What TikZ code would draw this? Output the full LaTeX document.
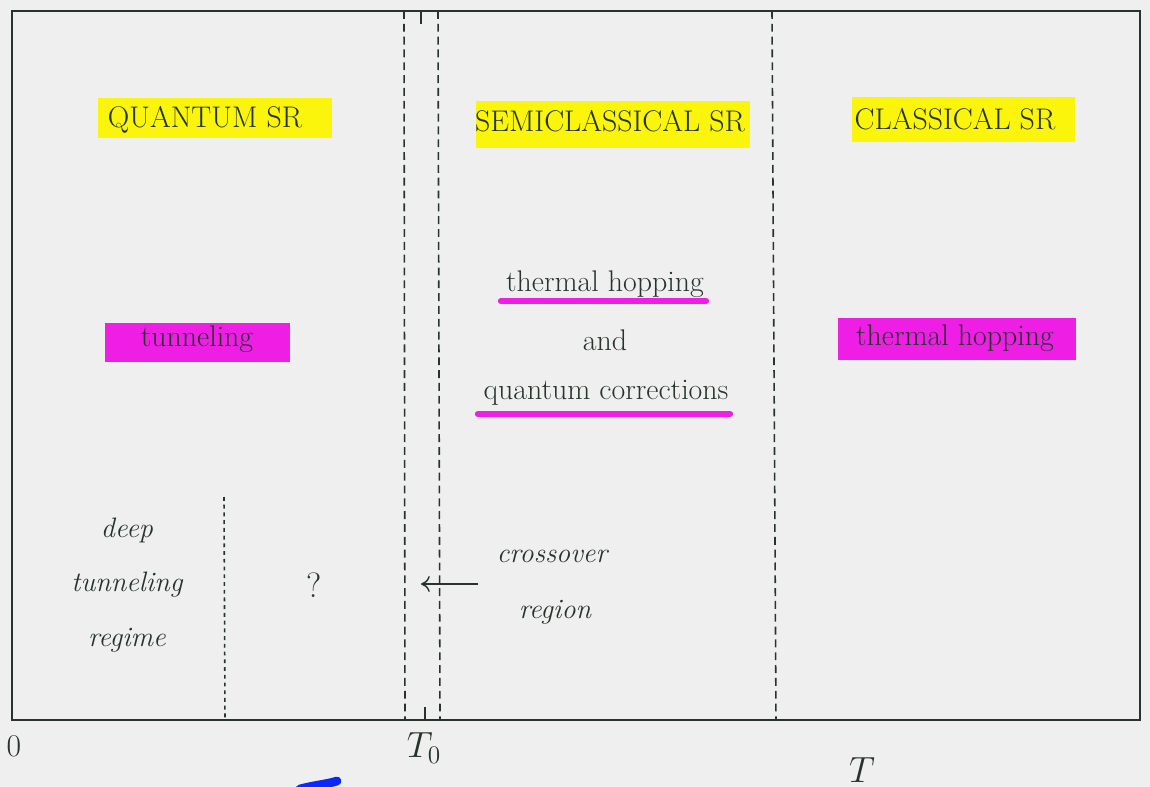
\documentclass[tikz,border=0pt]{standalone}
\usetikzlibrary{arrows.meta}
\definecolor{ink}{RGB}{38,52,44}
\definecolor{paper}{RGB}{239,239,239}
\definecolor{hly}{RGB}{250,245,10}
\definecolor{hlm}{RGB}{238,30,228}
\definecolor{pen}{RGB}{10,40,250}
\begin{document}
\begin{tikzpicture}[x=0.02cm,y=-0.02cm,
  every node/.style={text=ink, inner sep=0pt},
  lbl/.style={font=\fontsize{17}{20}\selectfont},
  ilbl/.style={font=\fontsize{16}{19}\selectfont\itshape},
  mlbl/.style={font=\fontsize{22}{26}\selectfont},
  frame/.style={draw=ink, line width=1.4pt},
  dashline/.style={draw=ink, line width=0.9pt, dash pattern=on 4.5pt off 2.8pt},
  dotline/.style={draw=ink, line width=0.9pt, dash pattern=on 2.2pt off 2.2pt},
  yhl/.style={fill=hly},
  mhl/.style={fill=hlm},
  uline/.style={draw=hlm, line width=3.6pt, line cap=round}]
\fill[paper] (0,0) rectangle (1150,787);
\useasboundingbox (0,0) rectangle (1150,787);
% highlights
\fill[yhl] (98,98) rectangle (332,138);
\fill[yhl] (476,101) rectangle (750,148);
\fill[yhl] (852,97) rectangle (1075,142);
\fill[mhl] (105,323) rectangle (290,362);
\fill[mhl] (838,318) rectangle (1076,360);
\draw[uline] (501,301) -- (706,301);
\draw[uline] (478,414) -- (730,414);
% frame
\draw[frame] (12,11) rectangle (1140,720);
% dashed region boundaries
\draw[dashline] (404,11) -- (405,720);
\draw[dashline] (438,11) -- (440,720);
\draw[dashline] (772,11) -- (776,720);
\draw[dotline] (224,497) -- (225,720);
% ticks
\draw[ink, line width=1.2pt] (421,11) -- (421,24);
\draw[ink, line width=1.2pt] (425,707) -- (425,720);
% labels
\node[lbl] (qsr) at (205,120) {QUANTUM SR};
\node[lbl] (ssr) at (610,121) {SEMICLASSICAL SR};
\node[lbl] (csr) at (955,119) {CLASSICAL SR};
\node[lbl] (tun) at (197,339) {tunneling};
\node[lbl] (th2) at (955,338) {thermal hopping};
\node[lbl] (th1) at (605,284) {thermal hopping};
\node[lbl] (and) at (605,340) {and};
\node[lbl] (qc) at (606,393) {quantum corrections};
\node[ilbl] (deep) at (127,530) {deep};
\node[ilbl] (tunn) at (127,585) {tunneling};
\node[ilbl] (regi) at (127,640) {regime};
\node[font=\fontsize{20}{24}\selectfont] (q) at (314,585) {?};
\node[ilbl] (cross) at (552,556) {crossover};
\node[ilbl] (regn) at (555,612) {region};
\coordinate (arrS) at (478,584);
\coordinate (arrE) at (421,584);
\draw[ink, line width=0.8pt, -{To[length=5pt,width=9pt]}] (arrS) -- (arrE);
\node[font=\fontsize{18}{22}\selectfont] (zero) at (14,746) {0};
\node[mlbl] (t0) at (424,748) {$T_0$};
\node[mlbl] (tt) at (862,770) {$T$};
% blue pen mark
\draw[pen, line width=5pt, line cap=round] (300,789) .. controls (315,785) and (328,784) .. (337,781);
\end{tikzpicture}
\end{document}
